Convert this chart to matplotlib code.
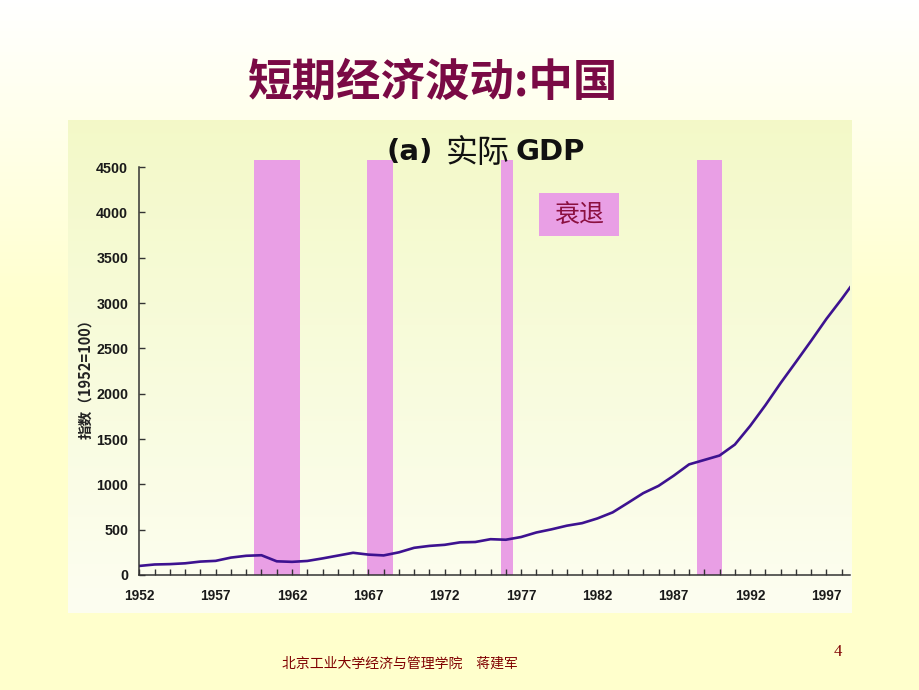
import numpy as np
import matplotlib.pyplot as plt
from matplotlib.patches import Rectangle

plt.rcParams['font.family'] = ['Noto Sans CJK SC', 'DejaVu Sans']

years = list(range(1952, 2000))
gdp_index = [100, 116, 120, 129, 148, 156, 192, 212, 218, 151,
             145, 155, 183, 214, 245, 225, 216, 250, 300, 321,
             333, 360, 364, 395, 389, 419, 469, 504, 544, 572,
             624, 691, 796, 903, 983, 1096, 1220, 1269, 1318, 1439,
             1644, 1873, 2118, 2350, 2585, 2826, 3046, 3277]

# recession shading (start, end)
band_starts = [1959.5, 1966.9, 1975.7, 1988.5]
band_ends = [1962.5, 1968.6, 1976.5, 1990.15]

xtick_years = list(range(1952, 1998, 5))
yticks = list(range(0, 4501, 500))

W, H = 920, 690
fig = plt.figure(figsize=(9.2, 6.9), dpi=100)

def fx(px):
    return px / W

def fy(py):
    return 1 - py / H

# slide background: white at top fading into pale yellow
bg = fig.add_axes([0, 0, 1, 1], zorder=-5)
t = np.clip(np.linspace(0, 1, 200) * 2.2, 0, 1)[:, None]
top = np.array([1.0, 1.0, 1.0])
bot = np.array([1.0, 1.0, 0.80])
grad = (1 - t)[..., None] * top + t[..., None] * bot
grad = np.repeat(grad, 2, axis=1)
bg.imshow(grad, extent=[0, W, H, 0], aspect='auto', zorder=0)

# chart panel: greenish cream at top, almost white at bottom
t2 = np.linspace(0, 1, 200)[:, None]
ptop = np.array([0.953, 0.976, 0.784])
pbot = np.array([0.992, 0.996, 0.945])
pgrad = (1 - t2)[..., None] * ptop + t2[..., None] * pbot
pgrad = np.repeat(pgrad, 2, axis=1)
bg.imshow(pgrad, extent=[68, 852, 613, 120], aspect='auto', zorder=1)
bg.set_xlim(0, W)
bg.set_ylim(H, 0)
bg.axis('off')

# main chart
ax = fig.add_axes([fx(139.3), fy(575), fx(850) - fx(139.3), fy(159.8) - fy(575)])
ax.patch.set_alpha(0)
for s, e in zip(band_starts, band_ends):
    ax.axvspan(s, e, color='#e99fe5', lw=0, zorder=1)
ax.plot(years, gdp_index, color='#3d1290', lw=1.9, zorder=3)

ax.set_xlim(1952, 1998.54)
ax.set_ylim(0, 4580)
ax.spines['top'].set_visible(False)
ax.spines['right'].set_visible(False)
ax.spines['left'].set_bounds(0, 4500)
for sp in ['left', 'bottom']:
    ax.spines[sp].set_color('#333333')
    ax.spines[sp].set_linewidth(1.1)
    ax.spines[sp].set_zorder(4)

ax.set_xticks(xtick_years)
ax.set_xticks(range(1952, 1999), minor=True)
ax.set_yticks(yticks)
ax.tick_params(axis='both', which='both', direction='in', color='#333333', width=1)
ax.tick_params(axis='x', which='both', length=4.5, pad=10)
ax.tick_params(axis='y', length=4.5, pad=8)
for lab in ax.get_xticklabels():
    lab.set_fontfamily('Liberation Sans')
    lab.set_fontweight('bold')
    lab.set_fontsize(9.8)
    lab.set_color('#1a1a1a')
for lab in ax.get_yticklabels():
    lab.set_fontfamily('Liberation Sans')
    lab.set_fontweight('bold')
    lab.set_fontsize(10.3)
    lab.set_color('#1a1a1a')

# y label
fig.text(fx(85), fy(375), '指数（1952=100）', rotation=90, ha='center', va='center',
         fontsize=10.5, fontweight='bold', color='#222222')

# slide title
fig.text(fx(433), fy(83), '短期经济波动:中国', ha='center', va='center',
         fontsize=32, fontweight='bold', color='#7a0a45')

# chart title: "(a)" bold, "实际" regular, "GDP" bold
fig.text(fx(387), fy(160), '(a)', ha='left', va='baseline',
         fontsize=21, fontweight='bold', fontfamily='DejaVu Sans', color='#111111')
fig.text(fx(446), fy(162), '实际', ha='left', va='baseline',
         fontsize=23, color='#111111')
fig.text(fx(516), fy(160), 'GDP', ha='left', va='baseline',
         fontsize=21, fontweight='bold', fontfamily='DejaVu Sans', color='#111111')

# legend box "衰退"
fig.add_artist(Rectangle((fx(539), fy(236)), fx(80), 43 / H, transform=fig.transFigure,
                         facecolor='#e99fe5', edgecolor='none'))
fig.text(fx(579), fy(215), '衰退', ha='center', va='center', fontsize=18, color='#8b1040')

# footer
fig.text(fx(282), fy(664), '北京工业大学经济与管理学院　蒋建军', ha='left', va='center',
         fontsize=10, color='#800000')
fig.text(fx(838), fy(652), '4', ha='center', va='center', fontsize=12,
         fontfamily='Liberation Serif', color='#800000')

fig.savefig('out.png', dpi=100)
